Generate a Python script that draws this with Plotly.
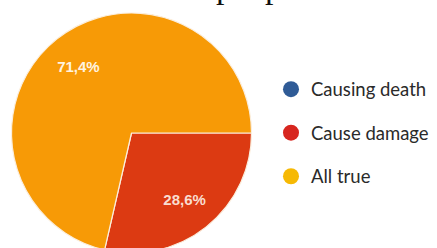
import plotly.graph_objects as go

categories = ["Causing death", "Cause damage", "All true"]
values = [0.0, 28.6, 71.4]
value_labels = ["", "28,6%", "71,4%"]
slice_colors = ["#3366cc", "#dc3a12", "#f79a06"]
legend_colors = ["#2f5b96", "#d7261f", "#f6b904"]
label_colors = ["#ffffff", "#f9ddd0", "#fff4e0"]

W, H = 437, 258
T, B = 13, 5
pie_domain = dict(x=[11.5/W, 251.5/W], y=[0, 1])
border = dict(color="#fbeedd", width=1.2)

fig = go.Figure()

# full pie (slices and borders)
fig.add_trace(go.Pie(
    labels=categories, values=values, textinfo="none",
    marker=dict(colors=slice_colors, line=border),
    sort=False, direction="clockwise", rotation=90,
    showlegend=False, hoverinfo="label+percent", domain=pie_domain,
))
# transparent ring on top carrying the percentage labels further out
fig.add_trace(go.Pie(
    labels=categories, values=values, text=value_labels,
    textinfo="text", textposition="inside",
    insidetextorientation="horizontal", hole=0.42,
    textfont=dict(family="Liberation Sans", size=15, color=label_colors, weight="bold"),
    marker=dict(colors=["rgba(0,0,0,0)"] * 3, line=dict(width=0)),
    sort=False, direction="clockwise", rotation=90,
    showlegend=False, hoverinfo="skip", domain=pie_domain,
))

for name, col in zip(categories, legend_colors):
    fig.add_trace(go.Scatter(
        x=[None], y=[None], mode="markers", name=name,
        legendgroup=name,
        marker=dict(color=col, size=20, symbol="circle"),
    ))

fig.add_annotation(
    text="people", xref="paper", yref="paper", x=261/W, y=1,
    xanchor="center", yanchor="bottom", yshift=6, showarrow=False,
    font=dict(family="Liberation Serif", size=34, color="#111111"),
)

fig.update_layout(
    width=W, height=H,
    margin=dict(l=0, r=0, t=T, b=B),
    paper_bgcolor="#ffffff", plot_bgcolor="#ffffff",
    xaxis=dict(visible=False), yaxis=dict(visible=False),
    legend=dict(
        x=271/W, y=0.76, xanchor="left", yanchor="top",
        font=dict(family="Lato", size=18.5, color="#2a2a2a"),
        tracegroupgap=16.5, bgcolor="rgba(0,0,0,0)",
    ),
)

fig.write_html(
    "out.html",
    config={"displayModeBar": False},
    post_script="document.body.style.margin='0';document.body.style.overflow='hidden';"
                "document.documentElement.style.overflow='hidden';",
)
